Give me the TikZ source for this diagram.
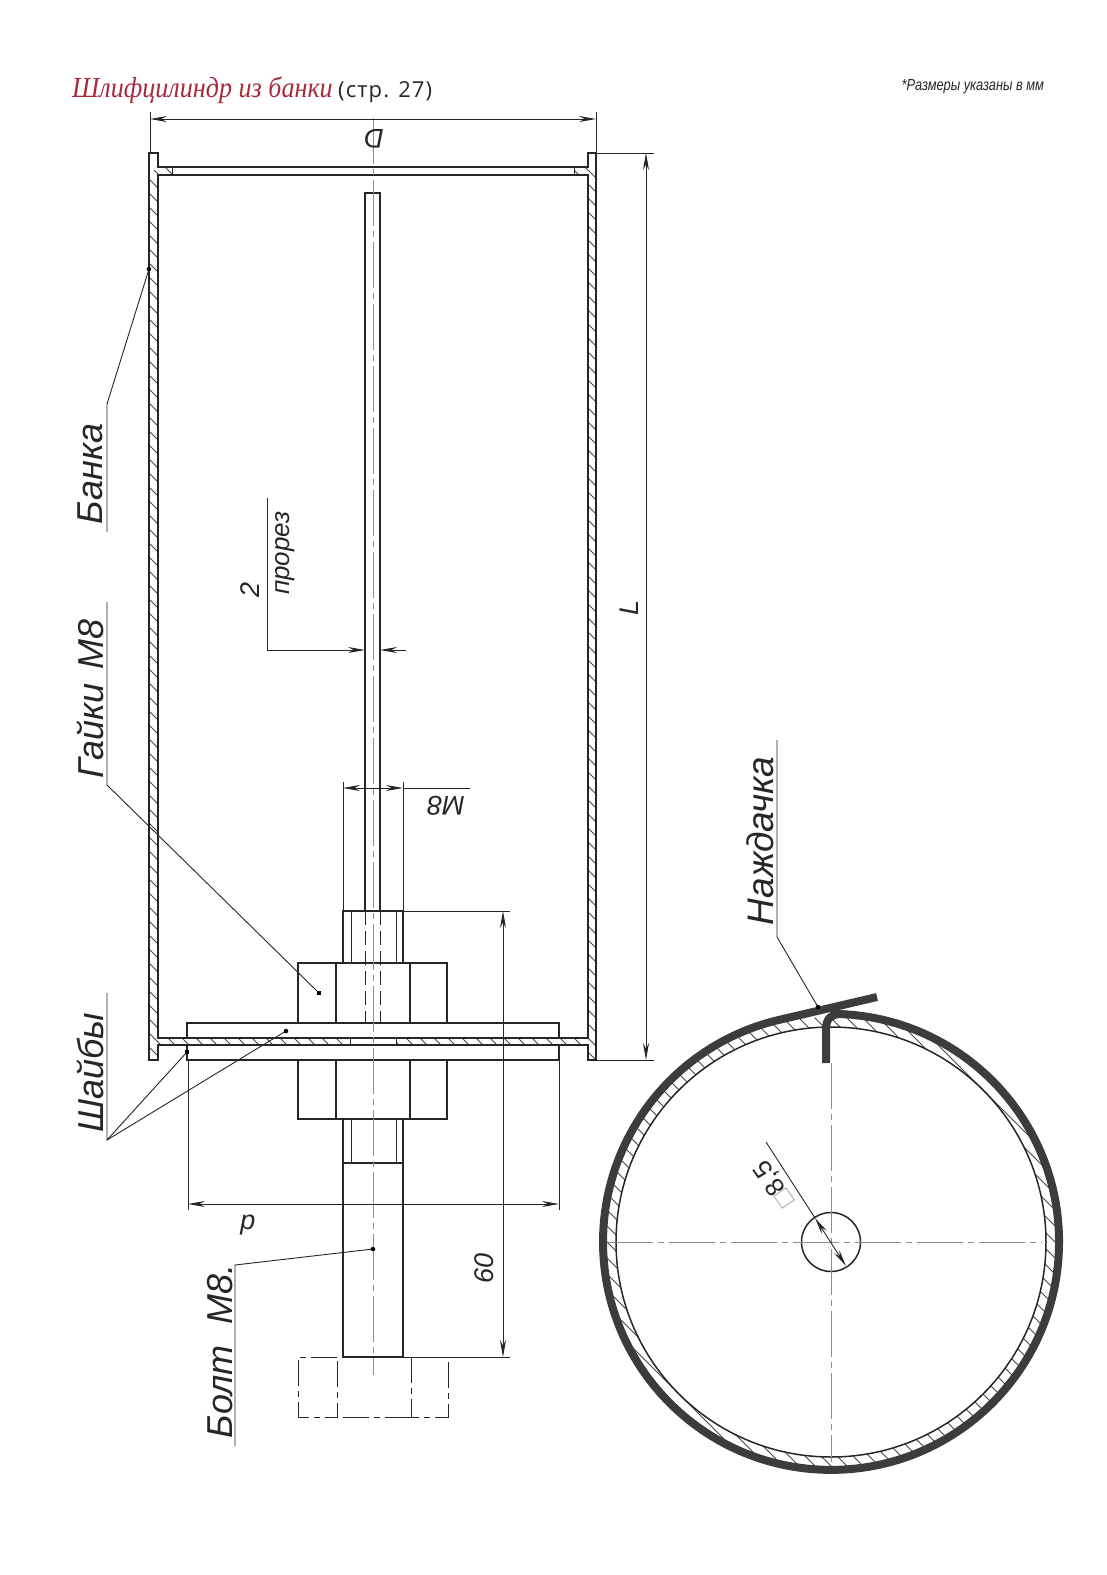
\documentclass[tikz,border=0pt]{standalone}
\usepackage{fontspec}
\setmainfont{Liberation Sans}
\newfontfamily\titlefont[FakeStretch=0.9]{Liberation Serif}
\newfontfamily\pagefont[LetterSpace=5]{Open Sans}
\newfontfamily\notefont[FakeStretch=0.8]{Liberation Sans}
\usepackage{xcolor}
\usetikzlibrary{arrows.meta}
\definecolor{titlered}{HTML}{A62A3C}
\definecolor{ink}{HTML}{262626}
\tikzset{
  >={Stealth[length=17pt,width=6pt]},
  part/.style={ink,line width=1.5pt},
  thinpart/.style={ink,line width=1pt},
  thinline/.style={ink,line width=0.9pt},
  hatchline/.style={ink!85,line width=0.8pt},
  axis/.style={black!45,line width=0.9pt,dash pattern=on 46pt off 5pt on 6pt off 5pt},
  phantomhead/.style={ink,line width=0.9pt,dash pattern=on 26pt off 5pt on 6pt off 5pt},
  callout/.style={rotate=90,text=ink,font=\fontsize{36}{36}\selectfont\itshape},
  dimtext/.style={text=ink,font=\fontsize{27}{27}\selectfont\itshape},
  dot/.style={circle,fill=black,inner sep=1.6pt},
  sqdot/.style={rectangle,fill=black,inner sep=1.8pt}
}
\begin{document}
\begin{tikzpicture}[x=1pt,y=-1pt]
\useasboundingbox (0,0) rectangle (1107,1575);
\node[anchor=base west,inner sep=0,text=titlered,font=\fontsize{29}{29}\selectfont\titlefont\itshape] (title) at (72,97) {Шлифцилиндр из банки};
\node[anchor=base west,inner sep=0,text=ink,font=\fontsize{22}{22}\selectfont\pagefont] (titlepage) at (338,97) {(стр. 27)};
\node[anchor=base east,inner sep=0,text=ink,font=\fontsize{16}{16}\selectfont\notefont\itshape] (note) at (1044,90) {*Размеры указаны в мм};
% can, section hatching
\begin{scope}
\clip (149,170) rectangle (158,1060) (588,170) rectangle (596,1060)
  (158,1038) rectangle (350,1045) (396,1038) rectangle (588,1045)
  (158,167) rectangle (172,175) (574,167) rectangle (588,175);
\foreach \c in {-912,-898,...,430}
  \draw[hatchline] ({\c+100},100) -- ({\c+1200},1200);
\end{scope}
\draw[part] (149,153) -- (158,153) -- (158,167) -- (588,167) -- (588,153) -- (596,153)
  -- (596,1060) -- (588,1060) -- (588,1045) -- (158,1045) -- (158,1060) -- (149,1060) -- cycle;
\draw[part] (158,175) -- (588,175) -- (588,1038) -- (158,1038) -- cycle;
\foreach \x in {172,574}
  \draw[thinpart] (\x,167) -- (\x,175);
\foreach \x in {350,396}
  \draw[thinpart] (\x,1038) -- (\x,1045);
% rod, bolt, nuts, washers
\draw[part] (365,193) rectangle (380,911);
\draw[part] (187,1023) rectangle (559,1038);
\draw[part] (187,1045) rectangle (559,1060);
\foreach \a/\b in {963/1023,1060/1119}{
  \draw[part] (298,\a) rectangle (447,\b);
  \draw[part] (336,\a) -- (336,\b) (410,\a) -- (410,\b);
}
\draw[part] (343,963) -- (343,911) -- (403,911) -- (403,963);
\draw[part] (343,1119) -- (343,1357) -- (403,1357) -- (403,1119);
\draw[part] (343,1163) -- (403,1163);
\foreach \a/\b in {911/963,1119/1163}
  \draw[thinpart] (351,\a) -- (351,\b) (396,\a) -- (396,\b);
\foreach \x in {365,380}
  \draw[thinpart,dash pattern=on 14pt off 6pt] (\x,911) -- (\x,1023);
\draw[phantomhead] (337,1357) -- (298,1357) -- (298,1417) -- (337,1417) -- cycle;
\draw[phantomhead] (343,1417) -- (411,1417);
\draw[phantomhead] (411,1357) -- (411,1417) -- (448,1417) -- (448,1357);
\draw[axis] (373,118) -- (373,1375);
% dimensions
\draw[thinline] (150,112) -- (150,153) (596,112) -- (596,153);
\draw[thinline,<->] (150,119) -- (596,119);
\node[dimtext,rotate=180] (dimD) at (374,139) {D};
\draw[thinline] (596,153) -- (654,153) (596,1060) -- (654,1060);
\draw[thinline,<->] (646,153) -- (646,1060);
\node[dimtext,rotate=90] (dimL) at (629,608) {L};
\draw[thinline,->] (267,498) -- (267,650) -- (365,650);
\draw[thinline,->] (406,650) -- (380,650);
\node[dimtext,rotate=90] (dimTwo) at (250,590) {2};
\node[dimtext,rotate=90,font=\fontsize{26}{26}\selectfont\itshape] (dimSlot) at (285,553) {прорез};
\draw[thinline] (343,782) -- (343,911) (403,782) -- (403,911);
\draw[thinline,<->] (343,788) -- (403,788);
\draw[thinline] (403,788) -- (470,788);
\node[dimtext,rotate=180] (dimThread) at (446,806) {M8};
\draw[thinline] (403,911) -- (510,911) (403,1357) -- (510,1357);
\draw[thinline,<->] (503,911) -- (503,1357);
\node[dimtext,rotate=90] (dimSixty) at (484,1268) {60};
\draw[thinline] (188,1060) -- (188,1210) (559,1060) -- (559,1210);
\draw[thinline,<->] (188,1204) -- (559,1204);
\node[dimtext] (dimP) at (248,1225) {p};
% callouts
\coordinate (bankaDot) at (149,269);
\coordinate (gaikiDot) at (319,993);
\coordinate (shaibaDotA) at (187,1052);
\coordinate (shaibaDotB) at (286,1031);
\coordinate (boltDot) at (373,1249);
\coordinate (emeryDot) at (818,1007);
\node[callout] (banka) at (90,474) {Банка};
\node[callout] (gaiki) at (90,699) {Гайки\hspace{4pt} М8};
\node[callout] (shaiby) at (90,1073) {Шайбы};
\node[callout] (bolt) at (220,1351) {Болт\hspace{11pt} М8.};
\node[callout,font=\fontsize{37}{37}\selectfont\itshape] (emery) at (760,841) {Наждачка};
\draw[thinline] (107,532) -- (107,404) -- (bankaDot);
\draw[thinline] (107,602) -- (107,785) -- (gaikiDot);
\draw[thinline] (107,993) -- (107,1140) -- (shaibaDotA);
\draw[thinline] (107,1140) -- (shaibaDotB);
\draw[thinline] (235,1446) -- (235,1265) -- (boltDot);
\draw[thinline] (777,740) -- (777,937) -- (emeryDot);
% end view
\coordinate (hub) at (831,1242);
\begin{scope}[even odd rule]
\clip (hub) circle[radius=225] (hub) circle[radius=215];
\foreach \c in {-747,-731,...,-75}
  \draw[hatchline] ({\c+300},300) -- ({\c+1700},1700);
\end{scope}
\draw[part] (hub) circle[radius=215];
\draw[part] (hub) circle[radius=29.5];
\draw[axis] (607,1242) -- (1042,1242);
\draw[axis] (831,1063) -- (831,1462);
\draw[ink!90,line width=8pt,line join=round] (826,1063) -- (826,1030)
  .. controls (826,1018) and (831,1015) .. (839,1014)
  arc[start angle=-88,end angle=256,radius=228] -- (877,997);
\draw[thinline] (766,1142) -- (815,1218);
\draw[thinline,<->] (815,1218) -- (846,1266);
\node[dimtext,rotate=125,font=\fontsize{26}{26}\selectfont] (dimHole) at (775,1184) {{\color{black!35}□}8,5};
\foreach \n in {bankaDot,shaibaDotB,boltDot,emeryDot}
  \node at (\n)[dot]{};
\foreach \n in {gaikiDot,shaibaDotA}
  \node at (\n)[sqdot]{};
\end{tikzpicture}
\end{document}
